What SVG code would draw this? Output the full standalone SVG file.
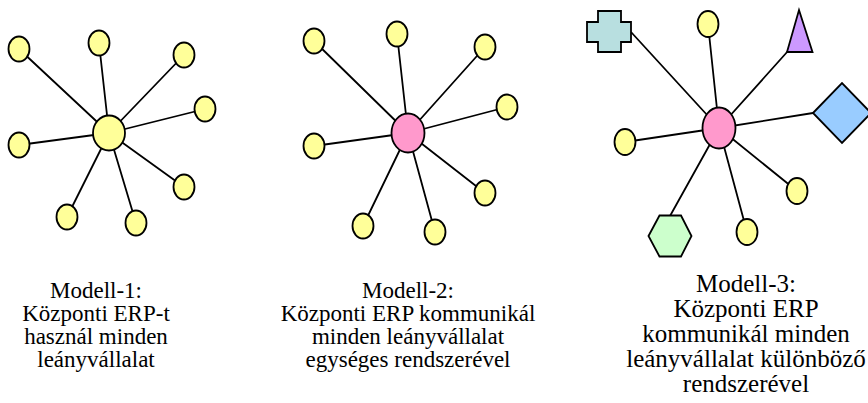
<svg xmlns="http://www.w3.org/2000/svg" width="868" height="403" viewBox="0 0 868 403">
<style>
.bg{fill:#ffffff}
.e{fill:#ffff99;stroke:#000;stroke-width:1.8}
.c1{fill:#ffff99;stroke:#000;stroke-width:1.8}
.c2{fill:#ff99cc;stroke:#000;stroke-width:1.8}
.ln{stroke:#000;stroke-width:1.8;fill:none}
.t{font-family:"Liberation Serif","Times New Roman",serif;font-size:23px;fill:#000;text-anchor:middle}
.t3{font-size:25px}
</style>
<rect class="bg" width="868" height="403"/>
<g id="connectors">
<path class="ln" d="M109,133 L19,49 M109,133 L99,43 M109,133 L184,55 M109,133 L205,109 M109,133 L19,145 M109,133 L184,187 M109,133 L67,217 M109,133 L136,223"/>
<path class="ln" d="M408,133 L314,41 M408,133 L397,34 M408,133 L485,47 M408,133 L507,107 M408,133 L314,146 M408,133 L485,193 M408,133 L363,226 M408,133 L435,232"/>
<path class="ln" d="M719,128 L631,32 M719,128 L708,24 M719,128 L788,51 M719,128 L813,113 M719,128 L625,142 M719,128 L797,191 M719,128 L670,216 M719,128 L747,232"/>
</g>
<g id="model1">
<ellipse id="m1-center" class="c1" cx="109" cy="133" rx="16" ry="17.5"/>
<ellipse id="m1-n1" class="e" cx="19" cy="49" rx="10.5" ry="12.5"/>
<ellipse id="m1-n2" class="e" cx="99" cy="43" rx="10.5" ry="12.5"/>
<ellipse id="m1-n3" class="e" cx="184" cy="55" rx="10.5" ry="12.5"/>
<ellipse id="m1-n4" class="e" cx="205" cy="109" rx="10.5" ry="12.5"/>
<ellipse id="m1-n5" class="e" cx="19" cy="145" rx="10.5" ry="12.5"/>
<ellipse id="m1-n6" class="e" cx="184" cy="187" rx="10.5" ry="12.5"/>
<ellipse id="m1-n7" class="e" cx="67" cy="217" rx="10.5" ry="12.5"/>
<ellipse id="m1-n8" class="e" cx="136" cy="223" rx="10.5" ry="12.5"/>
</g>
<g id="model2">
<ellipse id="m2-center" class="c2" cx="408" cy="133" rx="16.5" ry="19.5"/>
<ellipse id="m2-n1" class="e" cx="314" cy="41" rx="10.5" ry="12.5"/>
<ellipse id="m2-n2" class="e" cx="397" cy="34" rx="10.5" ry="12.5"/>
<ellipse id="m2-n3" class="e" cx="485" cy="47" rx="10.5" ry="12.5"/>
<ellipse id="m2-n4" class="e" cx="507" cy="107" rx="10.5" ry="12.5"/>
<ellipse id="m2-n5" class="e" cx="314" cy="146" rx="10.5" ry="12.5"/>
<ellipse id="m2-n6" class="e" cx="485" cy="193" rx="10.5" ry="12.5"/>
<ellipse id="m2-n7" class="e" cx="363" cy="226" rx="10.5" ry="12.5"/>
<ellipse id="m2-n8" class="e" cx="435" cy="232" rx="10.5" ry="12.5"/>
</g>
<g id="model3">
<ellipse id="m3-center" class="c2" cx="719" cy="128" rx="16.5" ry="20.5"/>
<path id="m3-cross" d="M598,11 H621 V22 H631 V42 H621 V52 H598 V42 H587 V22 H598 Z" fill="#b8dfe0" stroke="#000" stroke-width="1.8"/>
<ellipse id="m3-n2" class="e" cx="708" cy="24" rx="10.5" ry="13"/>
<polygon id="m3-triangle" points="799,10 812.5,52 787,52" fill="#cc99ff" stroke="#000" stroke-width="1.8"/>
<polygon id="m3-diamond" points="813,113 842,83 871,113 842,143" fill="#99ccff" stroke="#000" stroke-width="1.8"/>
<ellipse id="m3-n5" class="e" cx="625" cy="142" rx="10.5" ry="13"/>
<ellipse id="m3-n6" class="e" cx="797" cy="191" rx="10.5" ry="13"/>
<polygon id="m3-hexagon" points="648.5,236 659.5,215.5 681,215.5 691.5,236 681,256.5 659.5,256.5" fill="#ccffcc" stroke="#000" stroke-width="1.8"/>
<ellipse id="m3-n8" class="e" cx="747" cy="232" rx="10.5" ry="13"/>
</g>
<g id="labels">
<text class="t"><tspan x="96" y="297.5">Modell-1:</tspan><tspan x="96" y="320.5">Központi ERP-t</tspan><tspan x="96" y="343.5">használ minden</tspan><tspan x="96" y="366.5">leányvállalat</tspan></text>
<text class="t"><tspan x="408" y="297.5">Modell-2:</tspan><tspan x="408" y="320.5">Központi ERP kommunikál</tspan><tspan x="408" y="343.5">minden leányvállalat</tspan><tspan x="408" y="366.5">egységes rendszerével</tspan></text>
<text class="t t3"><tspan x="746" y="292">Modell-3:</tspan><tspan x="746" y="317">Központi ERP</tspan><tspan x="746" y="342">kommunikál minden</tspan><tspan x="746" y="367">leányvállalat különböző</tspan><tspan x="746" y="392">rendszerével</tspan></text>
</g>
</svg>
